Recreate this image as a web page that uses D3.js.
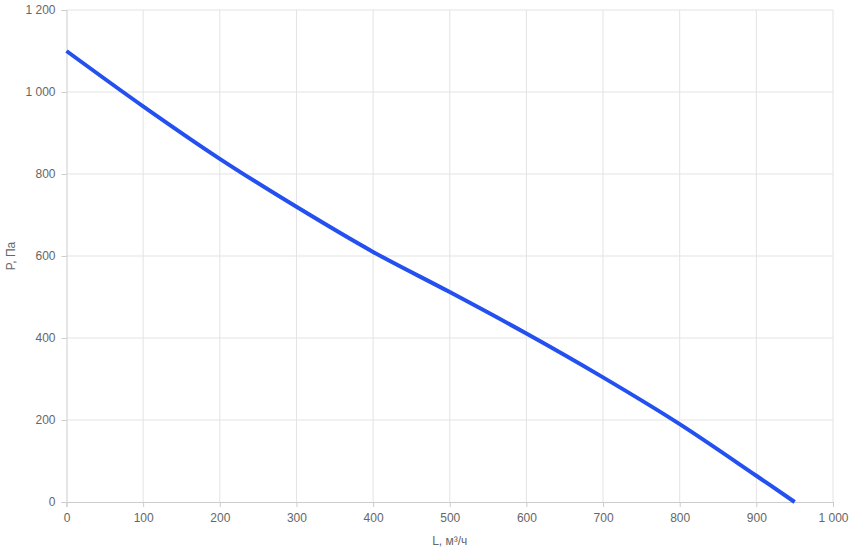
<!DOCTYPE html>
<html><head><meta charset="utf-8">
<script src="https://cdn.jsdelivr.net/npm/d3@7"></script>
<style>body{margin:0;background:#fff;} text{font-family:"Liberation Sans",Arial,sans-serif;}</style>
</head><body>
<svg id="c" width="851" height="553"></svg>
<script>
const flow = [0,100,200,300,400,500,600,700,800,900,950];
const pressure = [1100,965,837,720,610,512,411,304,190,64,0];
const xTicks = [0,100,200,300,400,500,600,700,800,900,1000];
const yTicks = [0,200,400,600,800,1000,1200];
const xLabel = "L, м³/ч";
const yLabel = "P, Па";

const svg = d3.select("#c");
const m = {l:66.5, r:833, t:10, b:502};
const x = d3.scaleLinear().domain([0,1000]).range([m.l, m.r]);
const y = d3.scaleLinear().domain([0,1200]).range([m.b, m.t]);
const fmt = v => d3.format(",")(v).replace(/,/g, " ");

// grid
svg.append("g").selectAll("line").data(xTicks.slice(1)).join("line")
  .attr("x1", d=>x(d)).attr("x2", d=>x(d)).attr("y1", m.t).attr("y2", m.b)
  .attr("stroke", "#e3e3e3").attr("stroke-width", 1);
svg.append("g").selectAll("line").data(yTicks.slice(1)).join("line")
  .attr("x1", m.l).attr("x2", m.r).attr("y1", d=>y(d)).attr("y2", d=>y(d))
  .attr("stroke", "#e3e3e3").attr("stroke-width", 1);

// axes
const xa = svg.append("g").attr("transform", `translate(0,${m.b})`)
  .call(d3.axisBottom(x).tickValues(xTicks).tickFormat(fmt).tickSize(5).tickPadding(6));
const ya = svg.append("g").attr("transform", `translate(${m.l},0)`)
  .call(d3.axisLeft(y).tickValues(yTicks).tickFormat(fmt).tickSize(5).tickPadding(6));
[xa, ya].forEach(a => {
  a.select(".domain").attr("stroke", "#ccc");
  a.selectAll(".tick line").attr("stroke", "#ccc");
  a.selectAll("text").attr("fill", "#666").attr("font-size", 12).attr("font-family", "Liberation Sans, Arial, sans-serif");
});

// line
const line = d3.line().x((d,i)=>x(flow[i])).y(d=>y(d)).curve(d3.curveCatmullRom.alpha(0.5));
svg.append("path").datum(pressure).attr("d", line)
  .attr("fill", "none").attr("stroke", "#2450f0").attr("stroke-width", 4).attr("stroke-linecap", "butt");

// labels
svg.append("text").attr("x", (m.l+m.r)/2).attr("y", 545).attr("text-anchor", "middle")
  .attr("fill", "#666").attr("font-size", 12).text(xLabel);
svg.append("text").attr("transform", `translate(15,${(m.t+m.b)/2}) rotate(-90)`).attr("text-anchor", "middle")
  .attr("fill", "#666").attr("font-size", 12).text(yLabel);
</script>
</body></html>
